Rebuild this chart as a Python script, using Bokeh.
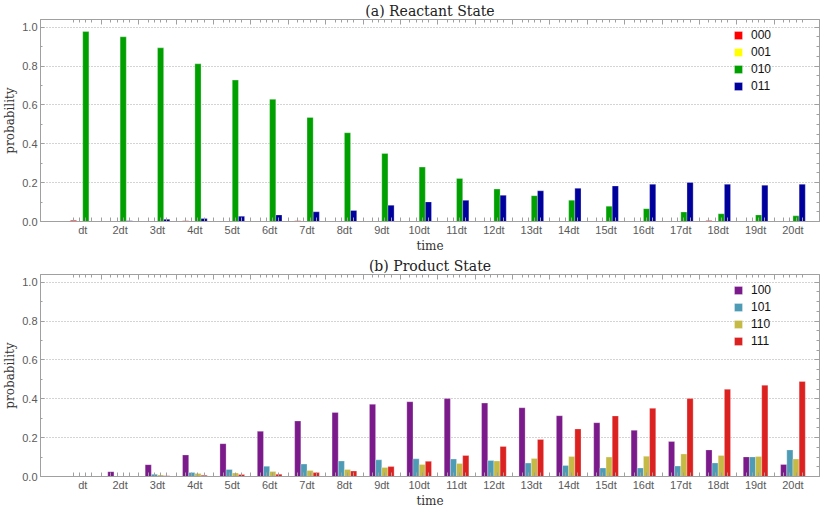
import numpy as np
from bokeh.plotting import figure
from bokeh.models import Range1d, FixedTicker, LinearAxis, NumeralTickFormatter
from bokeh.layouts import column
from bokeh.embed import file_html
from bokeh.resources import INLINE

# ---------------- data ----------------
time_labels = ["dt", "2dt", "3dt", "4dt", "5dt", "6dt", "7dt", "8dt", "9dt", "10dt",
               "11dt", "12dt", "13dt", "14dt", "15dt", "16dt", "17dt", "18dt", "19dt", "20dt"]

reactant_names = ["000", "001", "010", "011"]
p000 = [0.006, 0.002, 0.001, 0.004, 0.001, 0.002, 0.004, 0.001, 0.002, 0.002,
        0.001, 0.001, 0.002, 0.001, 0.002, 0.002, 0.001, 0.005, 0.002, 0.001]
p001 = [0.001, 0.001, 0.001, 0.001, 0.0, 0.001, 0.001, 0.001, 0.001, 0.001,
        0.001, 0.0, 0.001, 0.001, 0.001, 0.001, 0.0, 0.001, 0.001, 0.001]
p010 = [0.978, 0.951, 0.894, 0.812, 0.728, 0.629, 0.536, 0.457, 0.350, 0.280,
        0.222, 0.167, 0.133, 0.110, 0.079, 0.066, 0.049, 0.040, 0.034, 0.029]
p011 = [0.001, 0.004, 0.011, 0.016, 0.027, 0.034, 0.050, 0.057, 0.084, 0.101,
        0.109, 0.135, 0.158, 0.171, 0.183, 0.192, 0.201, 0.192, 0.187, 0.192]

product_names = ["100", "101", "110", "111"]
p100 = [0.003, 0.025, 0.061, 0.111, 0.169, 0.233, 0.286, 0.330, 0.372, 0.385,
        0.401, 0.378, 0.354, 0.313, 0.277, 0.238, 0.180, 0.137, 0.101, 0.062]
p101 = [0.001, 0.003, 0.011, 0.021, 0.036, 0.053, 0.064, 0.080, 0.086, 0.091,
        0.090, 0.083, 0.069, 0.057, 0.044, 0.044, 0.054, 0.070, 0.101, 0.137]
p110 = [0.001, 0.003, 0.008, 0.015, 0.018, 0.026, 0.031, 0.036, 0.046, 0.062,
        0.067, 0.080, 0.093, 0.103, 0.100, 0.104, 0.116, 0.108, 0.103, 0.090]
p111 = [0.001, 0.002, 0.004, 0.007, 0.010, 0.012, 0.020, 0.028, 0.051, 0.078,
        0.108, 0.155, 0.191, 0.245, 0.312, 0.351, 0.401, 0.449, 0.470, 0.489]

y_ticks = [0.0, 0.2, 0.4, 0.6, 0.8, 1.0]

reactant_colors = ["#ff0000", "#ffff00", "#00a000", "#00009c"]
product_colors = ["#7b1a8a", "#4e9bb5", "#c4ba45", "#dc2121"]

# ---------------- styling ----------------
FRAME = "#a0a0a0"
TICKLBL = "#5a5a5a"
SANS = "Liberation Sans"
SERIF = "DejaVu Serif"
BAR_W = 0.165
FRAME_W = 779
FRAME_H = 202

positions = list(range(1, len(time_labels) + 1))
n_series = 4
offsets = [(k - (n_series - 1) / 2) * BAR_W for k in range(n_series)]
bar_centers = [pos + off for pos in positions for off in offsets]
boundaries = [pos + 0.5 for pos in positions[:-1]]
y_minor = [0.1, 0.3, 0.5, 0.7, 0.9]
y_minor_r = [0.05, 0.1, 0.15, 0.25, 0.3, 0.35, 0.45, 0.5, 0.55, 0.65, 0.7, 0.75, 0.85, 0.9, 0.95]


def tick_axis(minor, length, line=True):
    """Axis that only draws inward tick marks (no labels)."""
    ax = LinearAxis(ticker=FixedTicker(ticks=[], minor_ticks=minor))
    ax.axis_line_color = FRAME if line else None
    ax.minor_tick_line_color = FRAME
    ax.minor_tick_out = 0
    ax.minor_tick_in = length
    ax.major_tick_out = 0
    ax.major_tick_in = 0
    ax.major_label_standoff = 0
    return ax


def make_panel(title, series, names, colors):
    p = figure(frame_width=FRAME_W, frame_height=FRAME_H, x_range=Range1d(-0.13, 20.71),
               y_range=Range1d(0, 1.04), output_backend="svg",
               toolbar_location=None, x_axis_location=None, y_axis_location=None,
               min_border_left=0, min_border_right=3, min_border_top=0,
               min_border_bottom=0)
    p.outline_line_color = FRAME
    p.background_fill_color = "white"
    p.title.text = title
    p.title.align = "center"
    p.title.text_font = SERIF
    p.title.text_font_size = "14px"
    p.title.text_font_style = "normal"
    p.title.text_color = "#222222"
    p.title.standoff = 1

    p.xgrid.visible = False
    p.ygrid.ticker = FixedTicker(ticks=y_ticks)
    p.ygrid.grid_line_color = "#a8a8a8"
    p.ygrid.grid_line_dash = "1 2"

    for k, (vals, name, col) in enumerate(zip(series, names, colors)):
        xs = [pos + offsets[k] for pos in positions]
        p.vbar(x=xs, top=vals, width=BAR_W, fill_color=col, line_color="white",
               line_alpha=0.4, line_width=0.7, legend_label=name)

    # bottom: labelled axis with inward ticks at bar centres and group boundaries
    xl = LinearAxis(ticker=FixedTicker(ticks=positions, minor_ticks=bar_centers + boundaries),
                    major_label_overrides={pos: lab for pos, lab in zip(positions, time_labels)})
    xl.axis_line_color = FRAME
    xl.major_tick_line_color = None
    xl.major_tick_in = 0
    xl.major_tick_out = 0
    xl.minor_tick_line_color = FRAME
    xl.minor_tick_in = 4
    xl.minor_tick_out = 0
    xl.major_label_text_font = SANS
    xl.major_label_text_font_size = "11px"
    xl.major_label_text_color = TICKLBL
    xl.major_label_standoff = 2
    xl.axis_label = "time"
    xl.axis_label_text_font = SERIF
    xl.axis_label_text_font_size = "12px"
    xl.axis_label_text_font_style = "normal"
    xl.axis_label_text_color = "#333333"
    xl.axis_label_standoff = 0
    p.add_layout(xl, "below")

    # top frame ticks
    p.add_layout(tick_axis(boundaries, 5), "above")
    p.add_layout(tick_axis(bar_centers, 3, line=False), "above")

    # left axis
    yl = LinearAxis(ticker=FixedTicker(ticks=y_ticks, minor_ticks=y_minor),
                    formatter=NumeralTickFormatter(format="0.0"))
    yl.axis_line_color = FRAME
    yl.major_tick_line_color = FRAME
    yl.minor_tick_line_color = FRAME
    yl.major_tick_out = 0
    yl.major_tick_in = 4
    yl.minor_tick_out = 0
    yl.minor_tick_in = 2
    yl.major_label_text_font = SANS
    yl.major_label_text_font_size = "11px"
    yl.major_label_text_color = TICKLBL
    yl.major_label_standoff = 3
    yl.axis_label = "probability"
    yl.axis_label_text_font = SERIF
    yl.axis_label_text_font_size = "12px"
    yl.axis_label_text_font_style = "normal"
    yl.axis_label_text_color = "#333333"
    yl.axis_label_standoff = 2
    p.add_layout(yl, "left")

    # right frame ticks
    p.add_layout(tick_axis(y_ticks, 5), "right")
    p.add_layout(tick_axis(y_minor_r, 3, line=False), "right")

    lg = p.legend[0]
    lg.location = (693, 128)
    lg.padding = 0
    lg.margin = 0
    lg.spacing = 2
    lg.label_height = 15
    lg.glyph_height = 10
    lg.glyph_width = 10
    lg.label_standoff = 8
    lg.label_text_font = SANS
    lg.label_text_font_size = "12px"
    lg.label_text_color = "#111111"
    lg.background_fill_alpha = 0
    lg.border_line_color = None
    return p


p1 = make_panel("(a) Reactant State", [p000, p001, p010, p011], reactant_names, reactant_colors)
p2 = make_panel("(b) Product State", [p100, p101, p110, p111], product_names, product_colors)

layout = column(p1, p2, spacing=0)
open("out.html", "w").write(file_html(layout, INLINE))
